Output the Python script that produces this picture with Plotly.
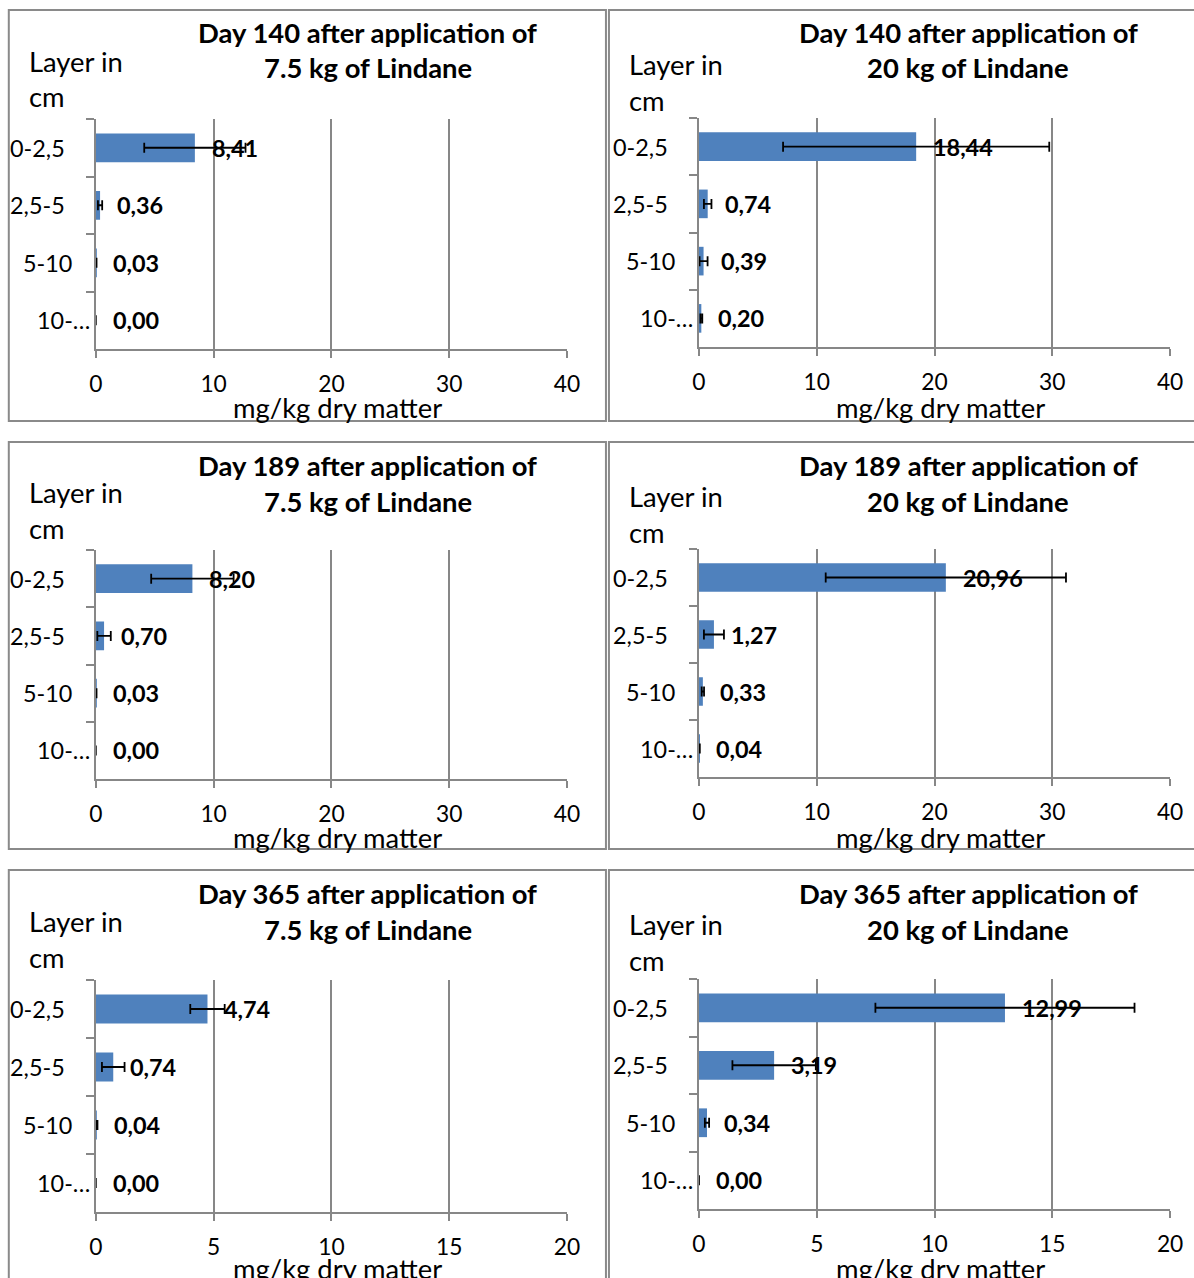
import plotly.graph_objects as go

# ---------------- data ----------------
layers = ["0-2,5", "2,5-5", "5-10", "10-…"]

title_line1 = ["Day 140 after application of", "Day 140 after application of",
               "Day 189 after application of", "Day 189 after application of",
               "Day 365 after application of", "Day 365 after application of"]
title_line2 = ["7.5 kg of Lindane", "20 kg of Lindane",
               "7.5 kg of Lindane", "20 kg of Lindane",
               "7.5 kg of Lindane", "20 kg of Lindane"]

day140_7_5kg = [8.41, 0.36, 0.03, 0.00]
day140_7_5kg_err = [4.3, 0.18, 0.03, 0.0]
day140_20kg = [18.44, 0.74, 0.39, 0.20]
day140_20kg_err = [11.3, 0.32, 0.34, 0.08]
day189_7_5kg = [8.20, 0.70, 0.03, 0.00]
day189_7_5kg_err = [3.5, 0.57, 0.03, 0.0]
day189_20kg = [20.96, 1.27, 0.33, 0.04]
day189_20kg_err = [10.2, 0.85, 0.1, 0.03]
day365_7_5kg = [4.74, 0.74, 0.04, 0.00]
day365_7_5kg_err = [0.73, 0.48, 0.03, 0.0]
day365_20kg = [12.99, 3.19, 0.34, 0.00]
day365_20kg_err = [5.5, 1.77, 0.09, 0.0]

x_max = [40, 40, 40, 40, 20, 20]
x_dtick = [10, 10, 10, 10, 5, 5]
axis_title = "mg/kg dry matter"
ylabel_line1 = "Layer in"
ylabel_line2 = "cm"

series = [
    (day140_7_5kg, day140_7_5kg_err),
    (day140_20kg, day140_20kg_err),
    (day189_7_5kg, day189_7_5kg_err),
    (day189_20kg, day189_20kg_err),
    (day365_7_5kg, day365_7_5kg_err),
    (day365_20kg, day365_20kg_err),
]

# ---------------- layout (pixel geometry) ----------------
W, H = 1194, 1278
FONT = "Lato"
BAR = "#4F81BD"
GRID = "#878787"
# horizontal correction for how the page is photographed
X_SCALE, X_OFF = 0.983, 7.2

def px(x):
    return ((x - X_OFF) / X_SCALE) / W

def py(y):
    return 1 - y / H

# plot area boxes: (left, right, top, bottom) in px
plot_boxes = [
    (96, 567, 119, 349), (699, 1170, 118, 347),
    (96, 567, 550, 779), (699, 1170, 549, 777),
    (96, 567, 980, 1212), (699, 1170, 979, 1209),
]
# panel borders: (left, right, top, bottom)
panel_boxes = [
    (9, 606, 10, 421), (609, 1215, 10, 421),
    (9, 606, 442, 849), (609, 1215, 442, 849),
    (9, 606, 870, 1300), (609, 1215, 870, 1300),
]
title_y = [(32, 68), (32, 68), (465, 501), (465, 501), (893, 929), (893, 929)]
title_x = [368, 968, 368, 968, 368, 968]
ylab_pos = [(27, 61, 97), (627, 64, 100), (27, 492, 528), (627, 496, 532),
            (27, 921, 957), (627, 924, 960)]
axtitle_pos = [(338, 408), (940, 408), (338, 837), (940, 837),
               (338, 1268), (940, 1268)]
# gap (px) between the y axis line and the right end of each category label
cat_label_gap = [29, 29, 22, 4]

fig = go.Figure()
annotations = []
shapes = []
layout_axes = {}

for i, ((vals, errs), box) in enumerate(zip(series, plot_boxes)):
    n = i + 1
    xa = "x" if n == 1 else f"x{n}"
    ya = "y" if n == 1 else f"y{n}"
    l, r, t, b = box
    fig.add_trace(go.Bar(
        x=vals, y=layers, orientation="h", xaxis=xa, yaxis=ya,
        marker=dict(color=BAR, line=dict(width=0)), width=0.5,
        error_x=dict(type="data", array=errs, visible=True, color="black",
                     thickness=1.8, width=5),
        showlegend=False, hoverinfo="x+y",
    ))
    # data labels
    for v, c in zip(vals, layers):
        annotations.append(dict(
            x=v, y=c, xref=xa, yref=ya, xanchor="left", yanchor="middle",
            xshift=15, showarrow=False,
            text=f"<b>{v:.2f}</b>".replace(".", ","),
            font=dict(family=FONT, size=23.4, color="black"),
        ))
    # category labels (placed like the original, not strictly right-aligned)
    for c, gap in zip(layers, cat_label_gap):
        annotations.append(dict(
            x=px(l - gap), y=c, xref="paper", yref=ya,
            xanchor="right", yanchor="middle", showarrow=False,
            text=c, font=dict(family=FONT, size=23.4, color="black"),
        ))
    key = "" if n == 1 else str(n)
    layout_axes["xaxis" + key] = dict(
        domain=[px(l), px(r)], anchor=ya, range=[0, x_max[i]],
        dtick=x_dtick[i], tick0=0, showgrid=True, gridcolor=GRID, gridwidth=1.6,
        showline=True, linecolor=GRID, linewidth=2, ticks="outside",
        tickcolor=GRID, ticklen=7, tickwidth=1.6, zeroline=False,
        tickfont=dict(family=FONT, size=22.8, color="black"),
        ticklabelstandoff=7,
        fixedrange=True,
    )
    layout_axes["yaxis" + key] = dict(
        domain=[py(b), py(t)], anchor=xa, type="category",
        categoryorder="array", categoryarray=layers, autorange="reversed",
        showline=True, linecolor=GRID, linewidth=2, ticks="outside",
        tickson="boundaries", ticklen=8, tickcolor=GRID, tickwidth=1.6,
        showticklabels=False, showgrid=False, zeroline=False,
        fixedrange=True,
    )
    # titles
    for line, yy in zip((title_line1[i], title_line2[i]), title_y[i]):
        annotations.append(dict(
            x=px(title_x[i]), y=py(yy), xref="paper", yref="paper",
            xanchor="center", yanchor="middle", showarrow=False,
            text=f"<b>{line}</b>",
            font=dict(family=FONT, size=27.4, color="black"),
        ))
    # "Layer in cm"
    lx, y1, y2 = ylab_pos[i]
    for line, yy in ((ylabel_line1, y1), (ylabel_line2, y2)):
        annotations.append(dict(
            x=px(lx), y=py(yy), xref="paper", yref="paper",
            xanchor="left", yanchor="middle", showarrow=False,
            text=line, font=dict(family=FONT, size=27.4, color="black"),
        ))
    # x-axis title
    ax, ay = axtitle_pos[i]
    annotations.append(dict(
        x=px(ax), y=py(ay), xref="paper", yref="paper",
        xanchor="center", yanchor="middle", showarrow=False,
        text=axis_title, font=dict(family=FONT, size=27.4, color="black"),
    ))

for (l, r, t, b) in panel_boxes:
    shapes.append(dict(type="rect", xref="paper", yref="paper",
                       x0=px(l), x1=px(r), y0=py(b), y1=py(t),
                       line=dict(color="#8a8a8a", width=2), layer="below"))

fig.update_layout(
    width=W, height=H, margin=dict(l=0, r=0, t=0, b=0),
    paper_bgcolor="white", plot_bgcolor="white",
    annotations=annotations, shapes=shapes,
    font=dict(family=FONT, size=22, color="black"),
    **layout_axes,
)

fig.write_html(
    "out.html",
    config={"displayModeBar": False},
    post_script=("document.body.style.margin='0';"
                 "document.body.style.overflow='hidden';"),
)
